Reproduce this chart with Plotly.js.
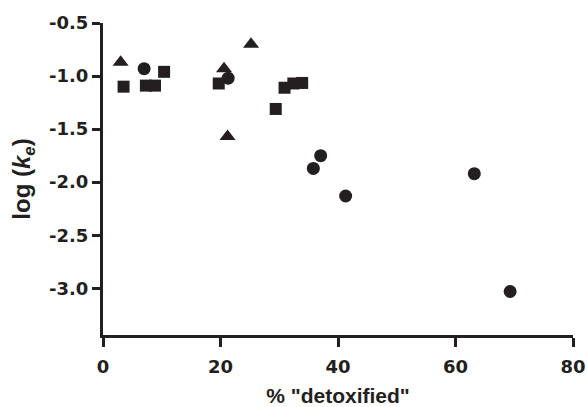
<!DOCTYPE html>
<html><head><meta charset="utf-8">
<script src="https://cdn.plot.ly/plotly-3.0.1.min.js"></script>
<style>html,body{margin:0;padding:0;background:#fff}#chart{width:587px;height:407px}</style>
</head><body><div id="chart"></div>
<script>
// circles
const circleX = [7.0, 21.3, 35.8, 37.05, 41.3, 63.2, 69.3];
const circleY = [-0.93, -1.02, -1.87, -1.75, -2.13, -1.92, -3.03];
// squares
const squareX = [3.5, 7.3, 8.85, 10.4, 19.7, 29.4, 30.9, 32.4, 33.9];
const squareY = [-1.10, -1.09, -1.09, -0.96, -1.07, -1.31, -1.11, -1.07, -1.065];
// triangles
const triX = [3.0, 20.6, 21.2, 25.2];
const triY = [-0.87, -0.93, -1.57, -0.70];

const xTicks = [0, 20, 40, 60, 80];
const yTicks = [-0.5, -1.0, -1.5, -2.0, -2.5, -3.0];
const yTickText = ['-0.5', '-1.0', '-1.5', '-2.0', '-2.5', '-3.0'];

const ink = '#231f20';
const font = {family: 'Liberation Sans, Arial, sans-serif', color: ink};
const tickFont = {family: 'DejaVu Sans, sans-serif', color: ink, size: 18};
const b = s => '<b>' + s + '</b>';

function tr(x, y, sym, size) {
  return {x: x, y: y, type: 'scatter', mode: 'markers',
    marker: {symbol: sym, size: size, color: ink, line: {width: 0}},
    cliponaxis: false, showlegend: false, hoverinfo: 'none'};
}

const data = [
  tr(squareX, squareY, 'square', 12),
  tr(circleX, circleY, 'circle', 13),
  tr(triX, triY, 'triangle-up', 14)
];

const layout = {
  width: 587, height: 407,
  margin: {l: 103, r: 14, t: 23, b: 72},
  paper_bgcolor: '#fff', plot_bgcolor: '#fff',
  font: font,
  xaxis: {
    range: [0, 80], tickvals: xTicks, ticktext: xTicks.map(v => b(String(v))),
    showgrid: false, zeroline: false, showline: true, linecolor: ink, linewidth: 3,
    ticks: 'outside', ticklen: 9, tickwidth: 3, tickcolor: ink,
    tickfont: tickFont, ticklabelstandoff: 4,
    title: {text: b('% "detoxified"'), font: Object.assign({}, font, {size: 21}), standoff: 14}
  },
  yaxis: {
    range: [-3.44, -0.5], tickvals: yTicks, ticktext: yTickText.map(b),
    showgrid: false, zeroline: false, showline: true, linecolor: ink, linewidth: 3,
    ticks: 'outside', ticklen: 8, tickwidth: 3, tickcolor: ink,
    tickfont: tickFont,
    title: {text: b('log (<i>k</i><sub><i>e</i></sub>)'), font: Object.assign({}, font, {size: 24}), standoff: 12}
  }
};

Plotly.newPlot('chart', data, layout, {displayModeBar: false, staticPlot: true});
</script>
</body></html>
